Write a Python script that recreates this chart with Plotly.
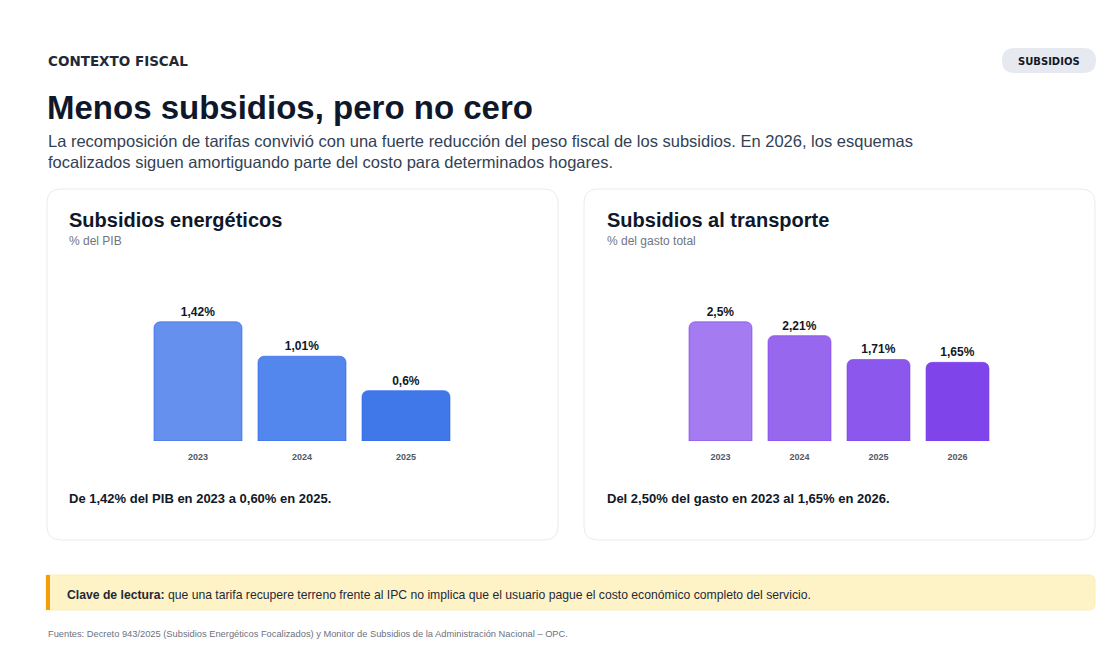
import plotly.graph_objects as go

# datos
anios_energia = ["2023", "2024", "2025"]
subsidios_energia = [1.42, 1.01, 0.60]
etiquetas_energia = ["1,42%", "1,01%", "0,6%"]

anios_transporte = ["2023", "2024", "2025", "2026"]
subsidios_transporte = [2.50, 2.21, 1.71, 1.65]
etiquetas_transporte = ["2,5%", "2,21%", "1,71%", "1,65%"]

colores_energia = ["#6690ee", "#5487ed", "#4078e9"]
colores_transporte = ["#a47bf0", "#9767ee", "#8c57ec", "#8045ea"]

# la página deja 8px de margen en el body; la figura ocupa el resto de la ventana
OFF = 8
W, H = 1114 - 2 * OFF, 662 - 2 * OFF
FONT = "Liberation Sans, Arial, sans-serif"
FONT_ANCHA = "DejaVu Sans, sans-serif"


def px(x):
    return (x - OFF) / W


def py(y):
    return 1 - (y - OFF) / H


def rounded_rect(x0, y0, x1, y1, r, rl=True):
    # path en coordenadas de papel, con esquinas redondeadas
    def p(x, y):
        return f"{px(x):.5f},{py(y):.5f}"
    rr = r
    rl_ = r if rl else 0
    return (f"M {p(x0 + rl_, y0)} L {p(x1 - rr, y0)} Q {p(x1, y0)} {p(x1, y0 + rr)} "
            f"L {p(x1, y1 - rr)} Q {p(x1, y1)} {p(x1 - rr, y1)} "
            f"L {p(x0 + rl_, y1)} Q {p(x0, y1)} {p(x0, y1 - rl_)} "
            f"L {p(x0, y0 + rl_)} Q {p(x0, y0)} {p(x0 + rl_, y0)} Z")


fig = go.Figure()

fig.add_trace(go.Bar(
    x=anios_energia, y=subsidios_energia,
    text=etiquetas_energia, textposition="outside",
    textfont=dict(size=12, color="#111827", family=FONT, weight="bold"),
    width=0.846,
    marker=dict(color=colores_energia, cornerradius=6,
                line=dict(color="rgba(37,99,235,0.6)", width=1)),
    cliponaxis=False, hoverinfo="skip",
    xaxis="x", yaxis="y",
))

fig.add_trace(go.Bar(
    x=anios_transporte, y=subsidios_transporte,
    text=etiquetas_transporte, textposition="outside",
    textfont=dict(size=12, color="#111827", family=FONT, weight="bold"),
    width=0.797,
    marker=dict(color=colores_transporte, cornerradius=6,
                line=dict(color="rgba(124,58,237,0.6)", width=1)),
    cliponaxis=False, hoverinfo="skip",
    xaxis="x2", yaxis="y2",
))

shapes = []
# tarjetas
for x0, x1 in [(47, 558), (584, 1095)]:
    shapes.append(dict(type="path", xref="paper", yref="paper",
                       path=rounded_rect(x0, 189, x1, 540, 14),
                       fillcolor="white", line=dict(color="#e9ebef", width=1), layer="below"))
# pastilla
shapes.append(dict(type="path", xref="paper", yref="paper",
                   path=rounded_rect(1002, 48, 1096, 73, 12.5),
                   fillcolor="#e6eaf0", line=dict(width=0), layer="below"))
# nota amarilla
shapes.append(dict(type="path", xref="paper", yref="paper",
                   path=rounded_rect(46, 575, 1095, 610, 6, rl=False),
                   fillcolor="#fef3c7", line=dict(color="#fdeeb5", width=1), layer="below"))
shapes.append(dict(type="rect", xref="paper", yref="paper",
                   x0=px(46), x1=px(50), y0=py(610), y1=py(575),
                   fillcolor="#f59e0b", line=dict(width=0), layer="below"))


def texto(x, y, t, size, color, weight="normal", xanchor="left", family=FONT):
    return dict(x=px(x), y=py(y), xref="paper", yref="paper", text=t, showarrow=False,
                xanchor=xanchor, yanchor="middle", align="left",
                font=dict(size=size, color=color, family=family, weight=weight))


annotations = [
    texto(46, 61, "CONTEXTO FISCAL", 13.5, "#1f2937", "bold", family=FONT_ANCHA),
    texto(1049, 61, "SUBSIDIOS", 10, "#111827", "bold", xanchor="center", family=FONT_ANCHA),
    texto(45, 107, "Menos subsidios, pero no cero", 33, "#0f172a", "bold"),
    texto(46, 151, "La recomposición de tarifas convivió con una fuerte reducción del peso fiscal de los subsidios. En 2026, los esquemas<br>"
                   "focalizados siguen amortiguando parte del costo para determinados hogares.", 16.5, "#334155"),
    texto(67, 220, "Subsidios energéticos", 20, "#0f172a", "bold"),
    texto(67, 241, "% del PIB", 12, "#70757f"),
    texto(67, 498, "De 1,42% del PIB en 2023 a 0,60% en 2025.", 13, "#111827", "bold"),
    texto(605, 220, "Subsidios al transporte", 20, "#0f172a", "bold"),
    texto(605, 241, "% del gasto total", 12, "#70757f"),
    texto(605, 498, "Del 2,50% del gasto en 2023 al 1,65% en 2026.", 13, "#111827", "bold"),
    texto(65, 595, "<b>Clave de lectura:</b> que una tarifa recupere terreno frente al IPC no implica que el usuario pague el costo económico completo del servicio.",
          12.2, "#1f2937"),
    texto(46, 634, "Fuentes: Decreto 943/2025 (Subsidios Energéticos Focalizados) y Monitor de Subsidios de la Administración Nacional – OPC.",
          9.3, "#6b7280"),
]

eje_x = dict(showgrid=False, zeroline=False, showline=False, ticks="", ticklabelstandoff=9,
             tickfont=dict(size=9, color="#525866", family=FONT, weight="bold"),
             fixedrange=True)
eje_y = dict(visible=False, fixedrange=True)

fig.update_layout(
    width=W, height=H,
    margin=dict(l=0, r=0, t=0, b=0),
    paper_bgcolor="white", plot_bgcolor="rgba(0,0,0,0)",
    showlegend=False,
    xaxis=dict(eje_x, domain=[px(146), px(458)], anchor="y"),
    yaxis=dict(eje_y, domain=[py(441), py(292)], range=[0, 1.42 * 1.25], anchor="x"),
    xaxis2=dict(eje_x, domain=[px(681), px(997)], anchor="y2"),
    yaxis2=dict(eje_y, domain=[py(441), py(292)], range=[0, 2.5 * 1.25], anchor="x2"),
    shapes=shapes,
    annotations=annotations,
)

fig.write_html("out.html")
